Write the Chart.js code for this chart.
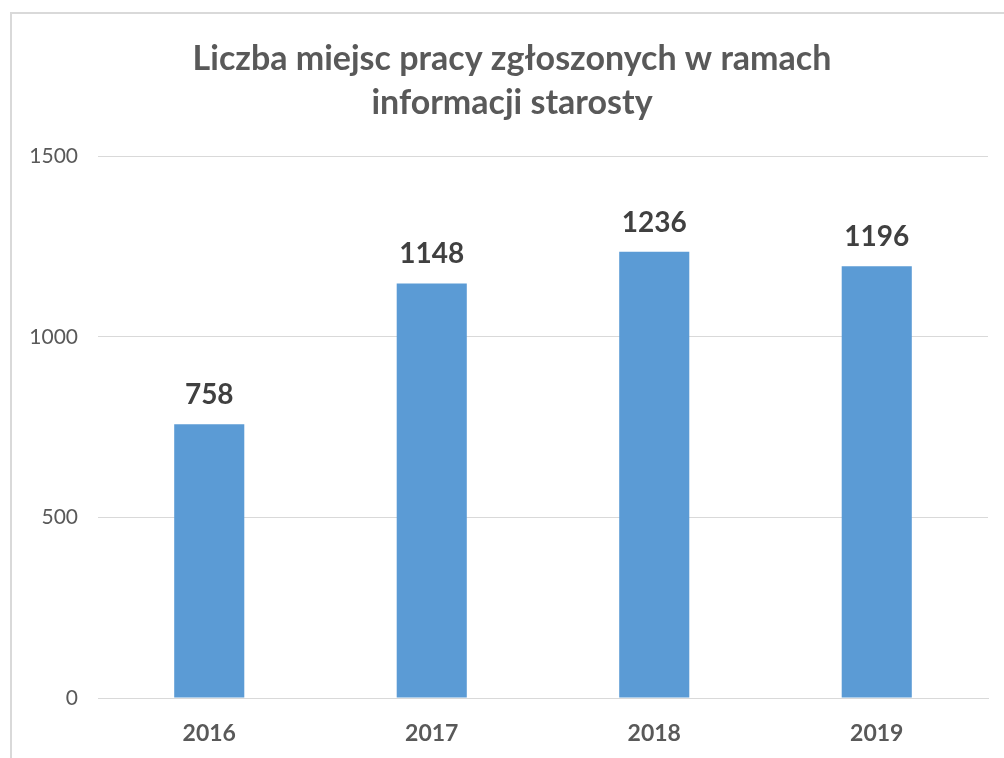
<!DOCTYPE html>
<html>
<head>
<meta charset="utf-8">
<script src="https://cdn.jsdelivr.net/npm/chart.js@4"></script>
<style>
  html, body { margin: 0; padding: 0; background: #fff; overflow: hidden; }
  #frame { position: absolute; left: 10px; top: 12px; width: 1020px; height: 780px; border: 2px solid #d9d9d9; box-sizing: border-box; }
  #wrap { position: absolute; left: 0; top: 0; width: 1004px; height: 758px; }
</style>
</head>
<body>
<div id="frame"></div>
<div id="wrap"><canvas id="jobsChart" width="1004" height="758"></canvas></div>
<script>
const years = ['2016', '2017', '2018', '2019'];
const jobs = [758, 1148, 1236, 1196];
const yTicks = [0, 500, 1000, 1500];
const titleLines = ['Liczba miejsc pracy zgłoszonych w ramach', 'informacji starosty'];

const FONT = 'Lato, "Open Sans", sans-serif';

// draws the value above each bar
const valueLabels = {
  id: 'valueLabels',
  afterDatasetsDraw(chart) {
    const ctx = chart.ctx;
    const meta = chart.getDatasetMeta(0);
    ctx.save();
    ctx.font = 'bold 28px ' + FONT;
    ctx.fillStyle = '#404040';
    ctx.textAlign = 'center';
    ctx.textBaseline = 'alphabetic';
    meta.data.forEach((bar, i) => {
      ctx.fillText(String(chart.data.datasets[0].data[i]), bar.x, bar.y - 20);
    });
    ctx.restore();
  }
};

new Chart(document.getElementById('jobsChart'), {
  type: 'bar',
  data: {
    labels: years,
    datasets: [{
      data: jobs,
      backgroundColor: '#5b9bd5',
      categoryPercentage: 1,
      barPercentage: 0.315
    }]
  },
  options: {
    responsive: false,
    animation: false,
    layout: { padding: { left: 20, right: 0, top: 0, bottom: 0 } },
    plugins: {
      legend: { display: false },
      tooltip: { enabled: false },
      title: {
        display: true,
        text: titleLines,
        color: '#595959',
        font: { family: FONT, size: 34, weight: 'bold', lineHeight: 1.3 },
        padding: { top: 37, bottom: 31 }
      }
    },
    scales: {
      x: {
        afterFit(scale) { scale.height = 60; },
        grid: { display: false, drawTicks: false },
        border: { color: '#d9d9d9', width: 1 },
        ticks: { color: '#595959', font: { family: FONT, size: 23, weight: 'bold' }, padding: 22 }
      },
      y: {
        min: 0,
        max: 1500,
        afterFit(scale) { scale.width = 78; },
        afterBuildTicks(scale) { scale.ticks = yTicks.map(v => ({ value: v })); },
        border: { display: false },
        grid: { color: '#d9d9d9', drawTicks: false },
        ticks: { color: '#595959', font: { family: FONT, size: 21 }, padding: 20, callback: v => String(v) }
      },
      y2: {
        position: 'right',
        afterFit(scale) { scale.width = 16; },
        grid: { display: false, drawTicks: false },
        border: { display: false },
        ticks: { display: false }
      }
    }
  },
  plugins: [valueLabels]
});
</script>
</body>
</html>
